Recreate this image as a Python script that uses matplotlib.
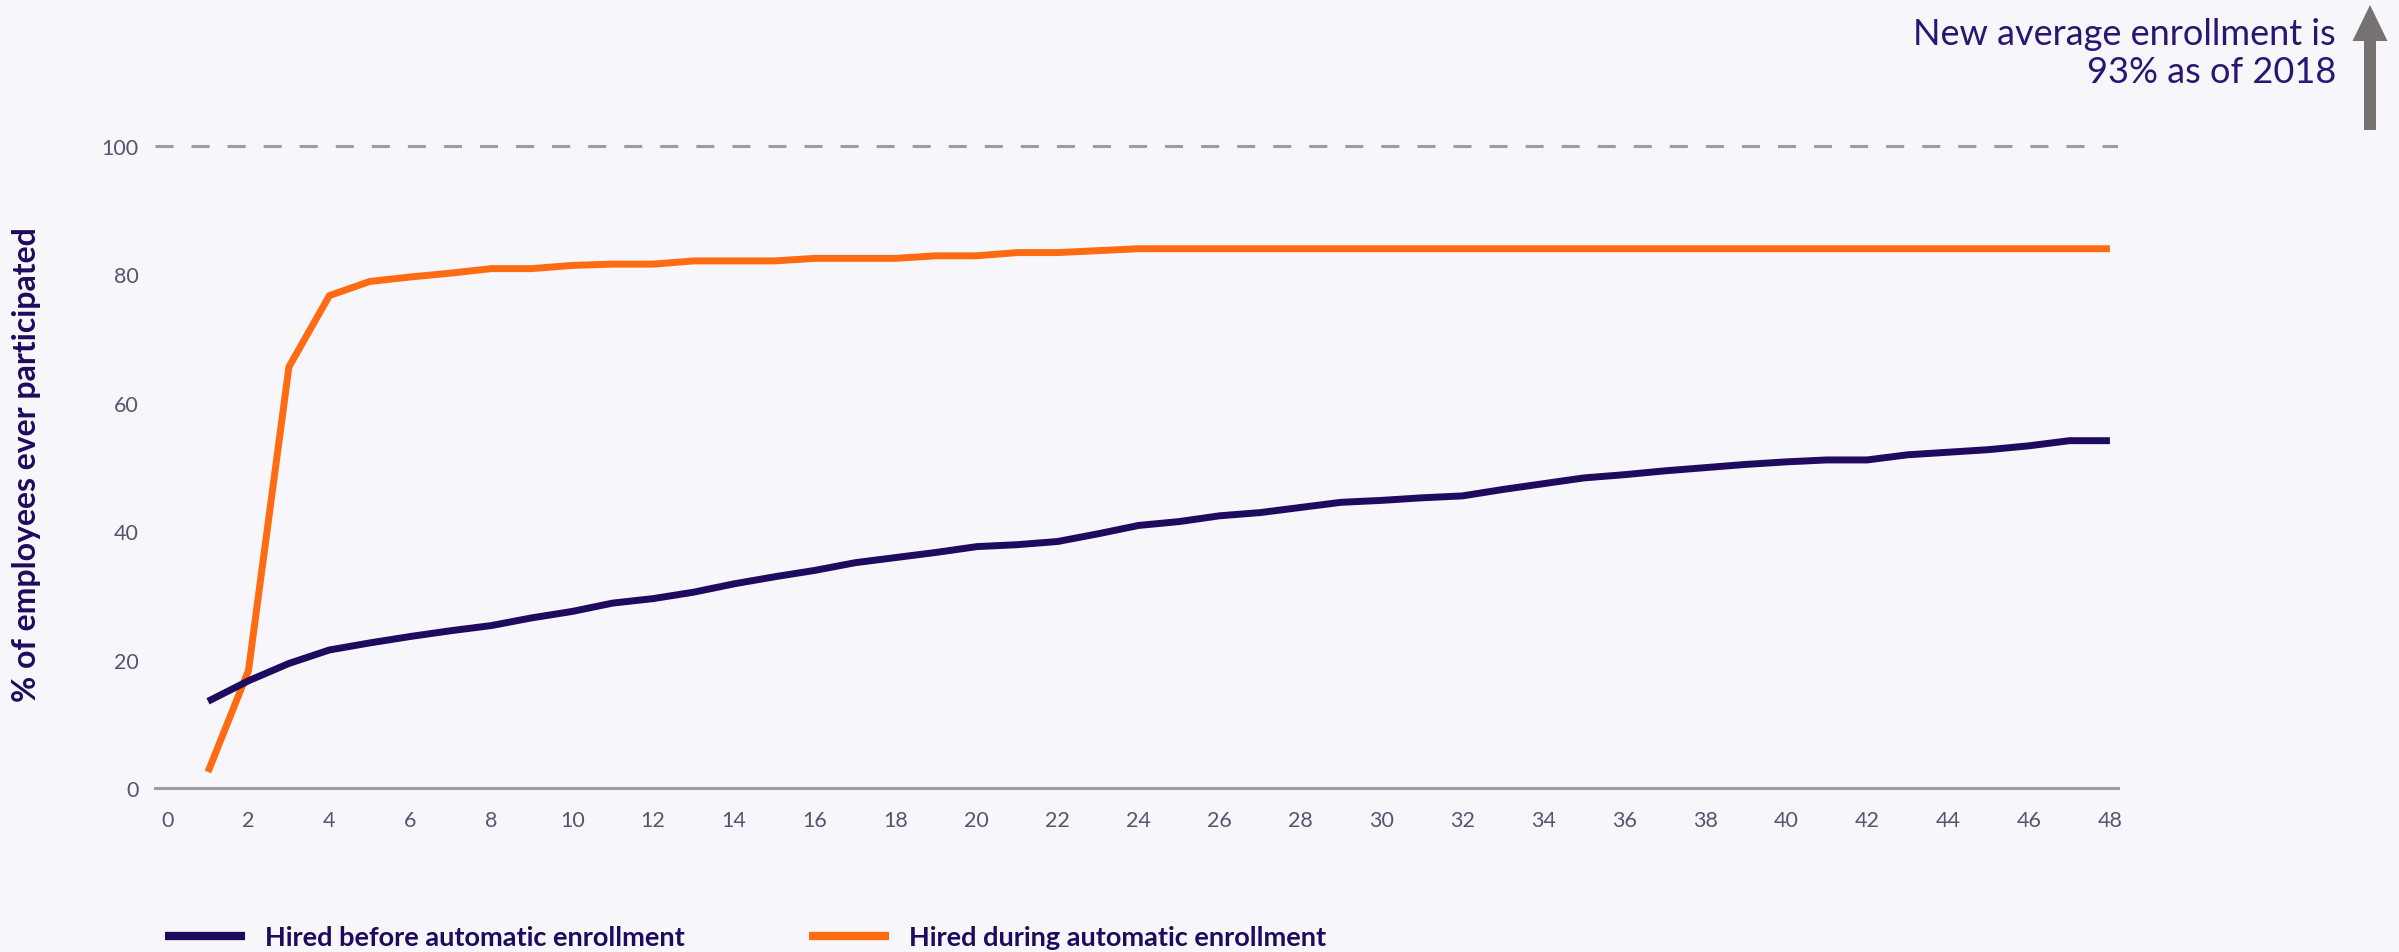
import matplotlib
matplotlib.use('Agg')
import matplotlib.pyplot as plt
from matplotlib.patches import FancyArrow

# months since hire
months = list(range(1, 49))

# % of employees ever participated
hired_before = [13.5, 16.7, 19.4, 21.5, 22.6, 23.6, 24.5, 25.3, 26.5, 27.5,
                28.8, 29.5, 30.5, 31.8, 32.9, 33.9, 35.1, 35.9, 36.7, 37.6,
                37.9, 38.4, 39.6, 40.9, 41.5, 42.4, 42.9, 43.7, 44.5, 44.8,
                45.2, 45.5, 46.5, 47.4, 48.3, 48.8, 49.4, 49.9, 50.4, 50.8,
                51.1, 51.1, 51.9, 52.3, 52.7, 53.3, 54.1, 54.1]
hired_during = [2.5, 18.3, 65.6, 76.7, 78.9, 79.6, 80.2, 80.9, 80.9, 81.4,
                81.6, 81.6, 82.1, 82.1, 82.1, 82.5, 82.5, 82.5, 82.9, 82.9,
                83.4, 83.4, 83.7] + [84.0] * 25

x_ticks = list(range(0, 49, 2))
y_ticks = list(range(0, 101, 20))
target_rate = 100

bg = '#f6f6fb'
navy = '#1e0a5e'
orange = '#ff6b12'
grey = '#9c9c9c'
tick_color = '#57546f'

plt.rcParams['font.family'] = ['Lato', 'DejaVu Sans']

W, H = 2399, 953
fig = plt.figure(figsize=(W / 100, H / 100), dpi=100, facecolor=bg)
ax = fig.add_axes([155.4 / W, (H - 789) / H, (2118 - 155.4) / W, 101 * 6.42 / H])
ax.set_facecolor(bg)

ax.axhline(target_rate, color=grey, lw=2.2, dashes=(5.9, 5.9), zorder=1)
ax.plot(months, hired_before, color=navy, lw=5, solid_capstyle='butt',
        label='Hired before automatic enrollment', zorder=3)
ax.plot(months, hired_during, color=orange, lw=5, solid_capstyle='butt',
        label='Hired during automatic enrollment', zorder=2)

ax.set_xlim(-0.3, 48.2)
ax.set_ylim(0, 101)
ax.set_xticks(x_ticks)
ax.set_yticks(y_ticks)

for s in ['top', 'right', 'left']:
    ax.spines[s].set_visible(False)
ax.spines['bottom'].set_color(grey)
ax.spines['bottom'].set_linewidth(2.2)

ax.tick_params(length=0, labelsize=15.5, colors=tick_color)
ax.tick_params(axis='y', pad=12)
ax.tick_params(axis='x', pad=16)

ax.set_ylabel('% of employees ever participated', fontsize=23,
              fontweight='bold', color=navy)
ax.yaxis.set_label_coords((41 - 155.4) / (2118 - 155.4), 0.5)

leg = fig.legend(loc='center left', bbox_to_anchor=(165 / W, 1 - 938 / H),
                 ncol=2, frameon=False, borderpad=0, borderaxespad=0,
                 handlelength=2.95, handletextpad=0.74, columnspacing=4.6,
                 prop={'weight': 'bold', 'size': 19.5}, labelcolor=navy)
for line in leg.get_lines():
    line.set_linewidth(6)

fig.text(2336 / W, 1 - 18 / H, 'New average enrollment is\n93% as of 2018',
         ha='right', va='top', fontsize=26, color='#2a1672', linespacing=1.2)

arrow = FancyArrow(2370 / W, 1 - 131 / H, 0, (131 - 6) / H,
                   width=12 / W, head_width=35 / W, head_length=36 / H,
                   length_includes_head=True, transform=fig.transFigure,
                   color='#767272', lw=0)
fig.add_artist(arrow)

fig.savefig('out.png', dpi=100, facecolor=bg)
